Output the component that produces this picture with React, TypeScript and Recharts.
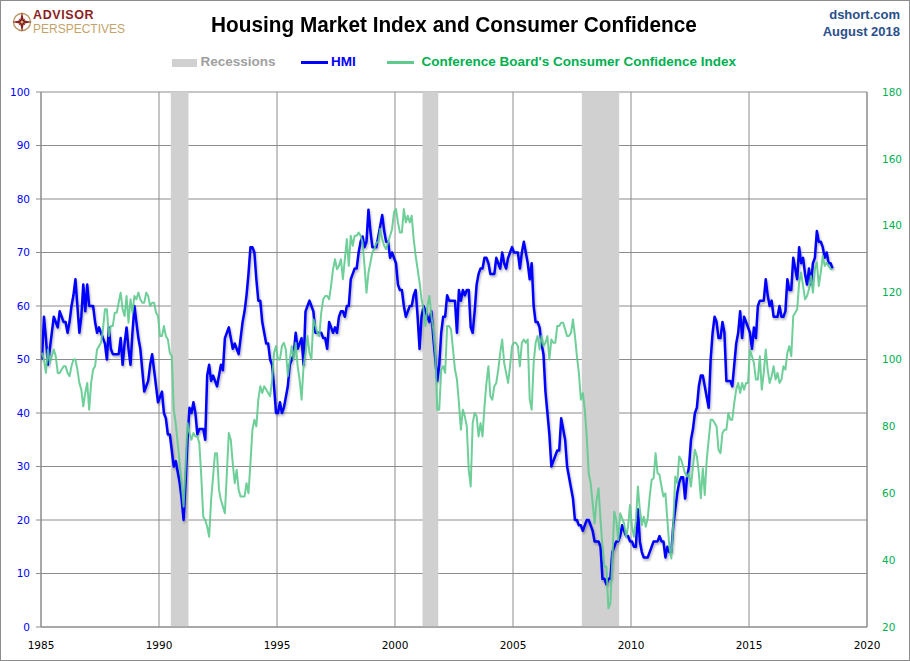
import React from 'react';
import { ComposedChart, Line, XAxis, YAxis, CartesianGrid, ReferenceArea } from 'recharts';

// NAHB Housing Market Index, monthly from Jan 1985
const hmi = [
  50, 58, 54, 49, 52, 55, 58, 57, 56, 59, 58, 57, // 1985
  57, 55, 57, 60, 62, 65, 60, 55, 58, 64, 59, 64, // 1986
  60, 60, 60, 57, 55, 56, 55, 54, 53, 50, 56, 52, // 1987
  51, 51, 51, 51, 54, 49, 53, 56, 52, 49, 55, 60, // 1988
  57, 54, 52, 48, 44, 45, 46, 49, 51, 48, 45, 42, // 1989
  43, 44, 40, 39, 36, 36, 33, 30, 31, 29, 27, 24, // 1990
  20, 27, 35, 41, 40, 42, 40, 36, 37, 37, 37, 35, // 1991
  47, 49, 46, 47, 46, 45, 47, 49, 48, 54, 55, 56, // 1992
  54, 52, 53, 52, 51, 54, 57, 59, 62, 66, 71, 71, // 1993
  70, 65, 61, 61, 57, 55, 53, 53, 50, 49, 45, 40, // 1994
  40, 42, 40, 41, 43, 45, 49, 50, 51, 55, 52, 53, // 1995
  54, 49, 59, 60, 61, 60, 59, 55, 55, 55, 55, 54, // 1996
  54, 52, 57, 56, 55, 56, 55, 58, 59, 59, 58, 60, // 1997
  60, 65, 66, 67, 67, 70, 72, 73, 71, 72, 78, 74, // 1998
  71, 71, 71, 73, 75, 77, 74, 72, 72, 69, 70, 69, // 1999
  68, 64, 63, 63, 60, 58, 59, 60, 60, 62, 63, 58, // 2000
  52, 58, 60, 59, 58, 57, 59, 54, 50, 46, 49, 55, // 2001
  58, 58, 62, 61, 61, 61, 61, 55, 63, 61, 63, 62, // 2002
  63, 63, 56, 55, 59, 64, 66, 67, 67, 69, 69, 68, // 2003
  66, 66, 66, 69, 68, 67, 70, 68, 67, 69, 70, 71, // 2004
  70, 70, 70, 67, 70, 72, 70, 68, 65, 68, 60, 57, // 2005
  57, 56, 53, 51, 44, 40, 36, 30, 31, 32, 33, 33, // 2006
  39, 37, 35, 30, 28, 26, 24, 20, 20, 19, 19, 18, // 2007
  19, 20, 20, 19, 18, 16, 16, 16, 15, 9, 9, 8, // 2008
  9, 9, 14, 15, 16, 16, 17, 19, 18, 17, 17, 16, // 2009
  16, 15, 15, 22, 16, 14, 13, 13, 13, 14, 15, 16, // 2010
  16, 16, 17, 16, 16, 13, 15, 14, 14, 19, 22, 25, // 2011
  27, 28, 28, 24, 28, 30, 35, 37, 40, 41, 45, 47, // 2012
  47, 45, 43, 41, 50, 55, 58, 57, 54, 54, 57, 55, // 2013
  46, 46, 46, 45, 49, 53, 55, 59, 54, 58, 57, 56, // 2014
  55, 52, 56, 54, 60, 61, 61, 61, 65, 62, 60, 61, // 2015
  58, 58, 58, 60, 58, 58, 59, 65, 63, 63, 69, 67, // 2016
  65, 71, 68, 69, 66, 64, 67, 64, 68, 69, 74, 72, // 2017
  72, 71, 69, 70, 68, 68, 67, // 2018
];

// Conference Board Consumer Confidence Index, same months
const cci = [
  102, 100, 96, 103, 99, 101, 103, 101, 96, 96, 97, 98, // 1985
  98, 96, 95, 98, 100, 100, 97, 93, 91, 86, 90, 93, // 1986
  85, 93, 97, 98, 103, 104, 105, 109, 115, 115, 107, 110, // 1987
  110, 114, 114, 117, 120, 115, 113, 119, 111, 118, 114, 119, // 1988
  118, 120, 118, 117, 117, 120, 119, 116, 117, 117, 114, 113, // 1989
  107, 107, 110, 107, 106, 102, 101, 85, 81, 75, 69, 63, // 1990
  56, 68, 81, 78, 76, 78, 77, 77, 75, 65, 53, 52, // 1991
  50, 47, 58, 65, 72, 72, 61, 58, 56, 54, 66, 78, // 1992
  76, 69, 63, 67, 61, 59, 59, 59, 63, 60, 69, 79, // 1993
  82, 80, 88, 92, 90, 92, 91, 90, 89, 94, 102, 104, // 1994
  100, 100, 104, 105, 103, 95, 100, 104, 100, 105, 98, 94, // 1995
  88, 98, 102, 107, 102, 100, 112, 110, 108, 107, 114, 118, // 1996
  119, 119, 118, 122, 127, 130, 127, 128, 130, 124, 130, 136, // 1997
  128, 137, 134, 137, 137, 138, 137, 135, 128, 120, 126, 129, // 1998
  132, 133, 135, 135, 139, 136, 134, 133, 135, 137, 139, 144, // 1999
  145, 141, 138, 138, 145, 141, 143, 141, 143, 136, 131, 127, // 2000
  123, 118, 115, 110, 116, 119, 113, 109, 102, 85, 85, 97, // 2001
  98, 96, 110, 110, 109, 103, 97, 94, 87, 79, 85, 83, // 2002
  80, 67, 62, 81, 84, 83, 77, 81, 77, 86, 93, 98, // 2003
  89, 88, 92, 93, 97, 102, 106, 99, 96, 93, 98, 104, // 2004
  105, 105, 104, 98, 105, 106, 105, 106, 88, 85, 99, 105, // 2005
  107, 103, 107, 104, 105, 107, 100, 106, 105, 105, 110, 110, // 2006
  111, 111, 109, 107, 107, 108, 112, 107, 101, 96, 88, 90, // 2007
  85, 77, 66, 63, 57, 51, 58, 61.5, 52, 44, 38, 38, // 2008
  25.6, 27, 40, 54.5, 52, 46, 54, 52.5, 51, 47, 50, 56.5, // 2009
  50, 47, 52, 62, 55, 50.5, 53, 50, 52.5, 59, 64, 64.5, // 2010
  72, 66, 65.5, 62, 59, 60, 52, 44, 40.5, 51, 65, 63, // 2011
  71, 70, 68, 66, 65, 66, 62, 68, 73, 71, 66, 58.5, // 2012
  67.5, 59.5, 70, 76, 82, 82, 81, 80, 73, 72, 78, 79, // 2013
  79, 84, 82, 82, 87, 91, 93, 90, 93, 91, 93, 93, // 2014
  103, 101, 99, 94, 94, 101, 91, 96, 103, 97, 93, 95, // 2015
  98, 94, 96, 93, 94, 98, 97, 102, 104, 101, 113, 114, // 2016
  115, 123, 126, 122, 118, 119, 121, 125, 120, 127, 129, 122, // 2017
  126, 131, 128, 129, 128, 127, 127, // 2018
];

// NBER recessions, [start, end] as fractional years
const recessions = [
  [1990 + 6 / 12, 1991 + 3 / 12],
  [2001 + 2 / 12, 2001 + 10 / 12],
  [2007 + 11 / 12, 2009 + 6 / 12],
];

const yearTicks = [1985, 1990, 1995, 2000, 2005, 2010, 2015, 2020];
const hmiTicks = [0, 10, 20, 30, 40, 50, 60, 70, 80, 90, 100];
const cciTicks = [20, 40, 60, 80, 100, 120, 140, 160, 180];

const data = hmi.map((v, i) => ({
  t: 1985 + (i + 0.5) / 12,
  hmi: v,
  cci: cci[i],
}));

const GRID = '#8c8c8c';
const BLUE = '#0000ff';
const GREEN = '#5fca8e';
const SANS = '"Liberation Sans", Arial, sans-serif';
const TICK_FONT = '"DejaVu Sans", Verdana, sans-serif';

function Logo() {
  return (
    <>
      <svg width={22} height={22} viewBox="0 0 22 22" style={{ position: 'absolute', left: 11, top: 11 }}>
        <circle cx={11} cy={11} r={8.5} fill="none" stroke="#b8945c" strokeWidth={1.3} />
        <polygon points="11,1 12.8,9.2 21,11 12.8,12.8 11,21 9.2,12.8 1,11 9.2,9.2" fill="#8b1f1f" />
        <polygon points="11,6 12,10 16,11 12,12 11,16 10,12 6,11 10,10" fill="#6e1414" transform="rotate(45 11 11)" />
        <circle cx={11} cy={11} r={1.5} fill="#d8b878" />
      </svg>
      <div style={{ position: 'absolute', left: 33, top: 8.3, fontFamily: SANS, fontWeight: 700, fontSize: 12.5, lineHeight: '14px', color: '#8b1f1f', letterSpacing: 0.6, whiteSpace: 'nowrap' }}>
        ADVISOR
      </div>
      <div style={{ position: 'absolute', left: 33, top: 22.6, fontFamily: SANS, fontSize: 12, lineHeight: '13.5px', color: '#c4a36a', whiteSpace: 'nowrap' }}>
        PERSPECTIVES
      </div>
    </>
  );
}

function Header() {
  const legendText = { position: 'absolute', top: 55.3, fontFamily: SANS, fontWeight: 700, fontSize: 13.5, lineHeight: '13.5px', whiteSpace: 'nowrap' } as const;
  return (
    <>
      <Logo />
      <div style={{ position: 'absolute', left: 0, width: 908, top: 14, textAlign: 'center', fontFamily: SANS, fontWeight: 700, fontSize: 22, lineHeight: '22px', color: '#000', transform: 'scaleX(0.944)', transformOrigin: '454px 50%' }}>
        Housing Market Index and Consumer Confidence
      </div>
      <div style={{ position: 'absolute', right: 10, top: 5.6, textAlign: 'right', fontFamily: SANS, fontWeight: 700, fontSize: 13, lineHeight: '17.7px', color: '#2a4f8a' }}>
        dshort.com
        <br />
        August 2018
      </div>
      <div style={{ position: 'absolute', left: 172, top: 59, width: 25, height: 8, background: '#d0d0d0' }} />
      <div style={{ ...legendText, left: 200.5, color: '#a0a0a0' }}>Recessions</div>
      <div style={{ position: 'absolute', left: 301, top: 61, width: 27, height: 2.5, background: BLUE }} />
      <div style={{ ...legendText, left: 331, color: BLUE }}>HMI</div>
      <div style={{ position: 'absolute', left: 387, top: 61, width: 27, height: 2.5, background: GREEN }} />
      <div style={{ ...legendText, left: 421.5, color: '#00b050' }}>Conference Board's Consumer Confidence Index</div>
    </>
  );
}

export default function App() {
  return (
    <div style={{ position: 'absolute', left: 0, top: 0, width: 910, height: 661, background: '#fff', overflow: 'hidden' }}>
      <Header />
      <ComposedChart width={910} height={661} data={data} margin={{ top: 92, right: 0, bottom: 0, left: 0 }}>
        <defs>
          <filter id="hmiShadow" x="-5%" y="-5%" width="110%" height="115%">
            <feDropShadow dx="1" dy="2" stdDeviation="1" floodColor="#000" floodOpacity="0.3" />
          </filter>
        </defs>
        <CartesianGrid yAxisId="hmi" stroke={GRID} strokeWidth={1} horizontal vertical />
        {recessions.map(([a, b], i) => (
          <ReferenceArea key={i} yAxisId="hmi" x1={a} x2={b} y1={0} y2={100} fill="#d0d0d0" fillOpacity={1} stroke="none" ifOverflow="hidden" />
        ))}
        <XAxis
          dataKey="t"
          type="number"
          domain={[1985, 2020]}
          ticks={yearTicks}
          height={34}
          axisLine={{ stroke: GRID }}
          tickLine={false}
          tickSize={0}
          tickMargin={15}
          tick={{ fill: '#000', fontSize: 10.5, fontFamily: TICK_FONT }}
          interval={0}
          allowDataOverflow
        />
        <YAxis
          yAxisId="hmi"
          orientation="left"
          domain={[0, 100]}
          ticks={hmiTicks}
          width={41}
          axisLine={{ stroke: GRID }}
          tickLine={{ stroke: GRID }}
          tickSize={5}
          tickMargin={6}
          tick={{ fill: BLUE, fontSize: 10.5, fontFamily: TICK_FONT }}
          interval={0}
        />
        <YAxis
          yAxisId="cci"
          orientation="right"
          domain={[20, 180]}
          ticks={cciTicks}
          width={43}
          axisLine={{ stroke: GRID }}
          tickLine={false}
          tickSize={2}
          tickMargin={13}
          tick={{ fill: '#00b050', fontSize: 10.5, fontFamily: TICK_FONT }}
          interval={0}
        />
        <Line
          yAxisId="hmi"
          dataKey="hmi"
          type="linear"
          stroke={BLUE}
          strokeWidth={2.5}
          strokeLinejoin="round"
          dot={false}
          activeDot={false}
          isAnimationActive={false}
          filter="url(#hmiShadow)"
        />
        <Line
          yAxisId="cci"
          dataKey="cci"
          type="linear"
          stroke={GREEN}
          strokeWidth={2}
          strokeOpacity={0.9}
          strokeLinejoin="round"
          dot={false}
          activeDot={false}
          isAnimationActive={false}
        />
      </ComposedChart>
      <div style={{ position: 'absolute', left: 0, top: 0, width: 910, height: 661, boxSizing: 'border-box', border: '1px solid #8c8c8c', pointerEvents: 'none' }} />
    </div>
  );
}
